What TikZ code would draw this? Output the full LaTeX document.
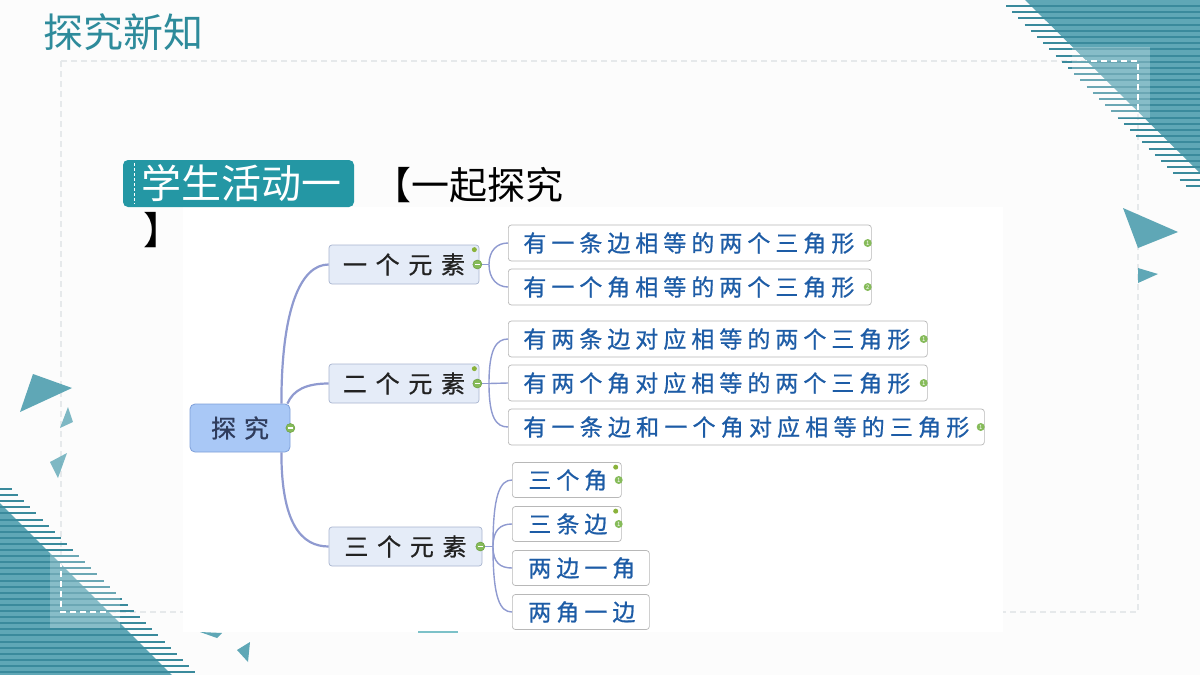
\documentclass[tikz,border=0pt]{standalone}
\usepackage{fontspec}
\setmainfont{Noto Sans CJK SC}
\newfontfamily\heavycjk[FakeBold=0.8]{Noto Sans CJK SC}
\usetikzlibrary{calc}
\definecolor{titleteal}{HTML}{2E8B9B}
\definecolor{tealbox}{HTML}{2497A4}
\definecolor{decoL}{HTML}{5FA7B6}
\definecolor{decoD}{HTML}{3A8A9C}
\definecolor{linkc}{HTML}{8F9AD0}
\definecolor{rootfill}{HTML}{A9C8F6}
\definecolor{rootdraw}{HTML}{7E9FD9}
\definecolor{roottext}{HTML}{2F3C5C}
\definecolor{lfill}{HTML}{E5ECF8}
\definecolor{ldraw}{HTML}{A9B5D0}
\definecolor{ltext}{HTML}{222222}
\definecolor{leafdraw}{HTML}{B8B8B8}
\definecolor{leaftext}{HTML}{1D5CA6}
\definecolor{mgreen}{HTML}{86BB5A}
\definecolor{mgreenD}{HTML}{6A9F3F}
\definecolor{mdot}{HTML}{8AB23A}
\definecolor{bgc}{HTML}{FCFCFC}
\definecolor{framec}{HTML}{E6E9EB}
% letter spaced text
\def\lsp#1#2{\def\lspgap{#1}\lspa#2\relax}
\def\lspa#1{#1\lspi}
\def\lspi#1{\ifx#1\relax\else\kern\lspgap\relax#1\expandafter\lspi\fi}
\tikzset{
  rootbox/.style={draw=rootdraw, fill=rootfill, rounded corners=5pt, line width=0.8pt,
    minimum width=100pt, minimum height=48pt, inner sep=0pt, text=roottext,
    font=\heavycjk\fontsize{25}{25}\selectfont},
  lvlbox/.style={draw=ldraw, fill=lfill, rounded corners=3pt, line width=0.7pt,
    minimum width=#1, minimum height=39pt, inner sep=0pt, text=ltext,
    font=\heavycjk\fontsize{24}{24}\selectfont},
  leafbox/.style={draw=leafdraw, fill=white, rounded corners=3pt, line width=0.7pt,
    anchor=west, text width=#1, inner xsep=15pt, inner ysep=2pt, minimum height=36pt,
    text=leaftext, font=\heavycjk\fontsize{23}{23}\selectfont},
  mainlink/.style={draw=linkc, line width=2.2pt},
  sublink/.style={draw=linkc, line width=1.4pt},
  minusmark/.style={circle, fill=mgreen, draw=mgreenD, line width=0.5pt, minimum size=9pt, inner sep=0pt,
    path picture={\draw[white, line width=1.3pt]
      ([xshift=-2.6pt]path picture bounding box.center) -- ([xshift=2.6pt]path picture bounding box.center);}},
  dotmark/.style={circle, fill=mdot, minimum size=5pt, inner sep=0pt},
  nummark/.style={circle, fill=mgreen, minimum size=8pt, inner sep=0pt, text=white,
    font=\fontsize{6}{6}\selectfont},
  decotri/.style={fill=decoL},
  stripe/.style={draw=decoD, line width=2pt}
}
\begin{document}
\begin{tikzpicture}[x=1pt,y=-1pt]
\useasboundingbox (0,0) rectangle (1200,675);
\fill[bgc] (0,0) rectangle (1200,675);
% dashed frame
\draw[framec, line width=1.2pt, dash pattern=on 6pt off 4pt] (61,61) rectangle (1138,612);
% panel of the mind map
\fill[white] (183,207) rectangle (1003,632);
% top right decoration
\fill[decotri] (1025,0) -- (1200,0) -- (1200,173) -- cycle;
\foreach \i in {0,...,29}{
  \pgfmathsetmacro\yy{6+6.2*\i}
  \draw[stripe] (\yy+1000,\yy) -- (1200,\yy);
}
% bottom left decoration
\fill[decotri] (0,503) -- (172,675) -- (0,675) -- cycle;
\foreach \i in {0,...,30}{
  \pgfmathsetmacro\yy{489+6.1*\i}
  \draw[stripe] (0,\yy) -- (\yy-477,\yy);
}
% translucent squares
\fill[white, opacity=0.25] (1072,47) rectangle (1150,118);
\fill[white, opacity=0.25] (50,553) rectangle (120,628);
% white dashes of the frame over teal
\begin{scope}
\clip (1025,0) -- (1200,0) -- (1200,173) -- cycle (0,503) -- (172,675) -- (0,675) -- cycle;
\draw[white, line width=1.2pt, dash pattern=on 6pt off 4pt] (61,61) rectangle (1138,612);
\end{scope}
% small triangles
\fill[decotri] (33,374) -- (72,388) -- (20,412) -- cycle;
\fill[decotri, opacity=0.8] (68,407) -- (73,422) -- (60,428) -- cycle;
\fill[decotri, opacity=0.8] (50,462) -- (67,453) -- (58,478) -- cycle;
\fill[decotri] (1123,208) -- (1178,232) -- (1138,248) -- cycle;
\fill[decotri] (1138,268) -- (1158,274) -- (1138,283) -- cycle;
\fill[decotri] (200,632) -- (222,633) -- (217,638) -- cycle;
\fill[decotri] (237,650) -- (250,642) -- (248,662) -- cycle;
\draw[tealbox!60, line width=1.5pt] (418,632) -- (458,632);
% title
\node[anchor=base west, inner sep=0pt, text=titleteal, font=\fontsize{40}{40}\selectfont] (title) at (43,47) {探究新知};
% activity label
\node[fill=tealbox, rounded corners=5pt, minimum width=231pt, minimum height=47pt, inner sep=0pt,
  text=white, font=\fontsize{40}{40}\selectfont] (lab) at (238.5,183.5) {\kern6pt学生活动一};
\draw[white, line width=0.8pt, dash pattern=on 3pt off 2pt] ([xshift=12pt,yshift=-3pt]lab.north west) -- ([xshift=12pt,yshift=3pt]lab.south west);
\node[anchor=base west, inner sep=0pt, align=left, font=\fontsize{38}{45}\selectfont] (head) at (143,244)
  {\kern230pt【一起探究\\】};
% mind map
\node[rootbox] (root) at (240,428) {\lsp{8pt}{探究}};
\node[lvlbox=150pt] (n1) at (404,264.5) {\lsp{8.7pt}{一个元素}};
\node[lvlbox=150pt] (n2) at (404,383.5) {\lsp{8.7pt}{二个元素}};
\node[lvlbox=153pt] (n3) at (405.5,546.5) {\lsp{8.7pt}{三个元素}};
\node[leafbox=333pt] (c11) at (508,243) {\lsp{5pt}{有一条边相等的两个三角形}};
\node[leafbox=333pt] (c12) at (508,287) {\lsp{5pt}{有一个角相等的两个三角形}};
\node[leafbox=389pt] (c21) at (508,339) {\lsp{5pt}{有两条边对应相等的两个三角形}};
\node[leafbox=389pt] (c22) at (508,383) {\lsp{5pt}{有两个角对应相等的两个三角形}};
\node[leafbox=446pt] (c23) at (508,427) {\lsp{5.2pt}{有一条边和一个角对应相等的三角形}};
\node[leafbox=77pt, inner xsep=16pt, minimum height=35pt] (c31) at (512,480) {\lsp{5pt}{三个角}};
\node[leafbox=77pt, inner xsep=16pt, minimum height=35pt] (c32) at (512,524) {\lsp{5pt}{三条边}};
\node[leafbox=105pt, inner xsep=16pt, minimum height=35pt] (c33) at (512,568) {\lsp{5pt}{两边一角}};
\node[leafbox=105pt, inner xsep=16pt, minimum height=35pt] (c34) at (512,612) {\lsp{5pt}{两角一边}};
% main links
\draw[mainlink] ([xshift=-9pt]root.north east) .. controls +(0,-95) and +(-28,0) .. (n1.west);
\draw[mainlink] ([xshift=-3pt]root.north east) .. controls +(6,-14) and +(-22,0) .. (n2.west);
\draw[mainlink] ([xshift=-9pt]root.south east) .. controls +(0,70) and +(-28,0) .. (n3.west);
% markers on the main nodes
\node[minusmark] (m0) at (root.east) {};
\node[minusmark] (m1) at ([xshift=-2pt]n1.east) {};
\node[minusmark] (m2) at ([xshift=-2pt]n2.east) {};
\node[minusmark] (m3) at ([xshift=-2pt]n3.east) {};
\node[dotmark] (d1) at ([xshift=-5pt,yshift=-5pt]n1.north east) {};
\node[dotmark] (d2) at ([xshift=-5pt,yshift=-5pt]n2.north east) {};
% hubs
\coordinate (h1) at (489,264.5);
\coordinate (h2) at (489,383.5);
\coordinate (h3) at (493,546.5);
\draw[sublink] (m1) -- (h1);
\draw[sublink] (h1) .. controls +(0,-14) and +(-11,0) .. (c11.west);
\draw[sublink] (h1) .. controls +(0,14) and +(-11,0) .. (c12.west);
\draw[sublink] (m2) -- (h2);
\draw[sublink] (h2) .. controls +(0,-34) and +(-12,0) .. (c21.west);
\draw[sublink] (h2) -- (c22.west);
\draw[sublink] (h2) .. controls +(0,34) and +(-12,0) .. (c23.west);
\draw[sublink] (m3) -- (h3);
\draw[sublink] (h3) .. controls +(0,-52) and +(-12,0) .. (c31.west);
\draw[sublink] (h3) .. controls +(0,-16) and +(-12,0) .. (c32.west);
\draw[sublink] (h3) .. controls +(0,16) and +(-12,0) .. (c33.west);
\draw[sublink] (h3) .. controls +(0,52) and +(-12,0) .. (c34.west);
% numbered markers
\node[nummark] (k11) at ([xshift=-4pt]c11.east) {1};
\node[nummark] (k12) at ([xshift=-4pt]c12.east) {2};
\node[nummark] (k21) at ([xshift=-4pt]c21.east) {1};
\node[nummark] (k22) at ([xshift=-4pt]c22.east) {1};
\node[nummark] (k23) at ([xshift=-4pt]c23.east) {1};
\node[nummark] (k31) at ([xshift=-3pt]c31.east) {1};
\node[nummark] (k32) at ([xshift=-3pt]c32.east) {1};
\node[dotmark] (d31) at ([xshift=-6pt,yshift=-5pt]c31.north east) {};
\node[dotmark] (d32) at ([xshift=-6pt,yshift=-5pt]c32.north east) {};
\end{tikzpicture}
\end{document}
